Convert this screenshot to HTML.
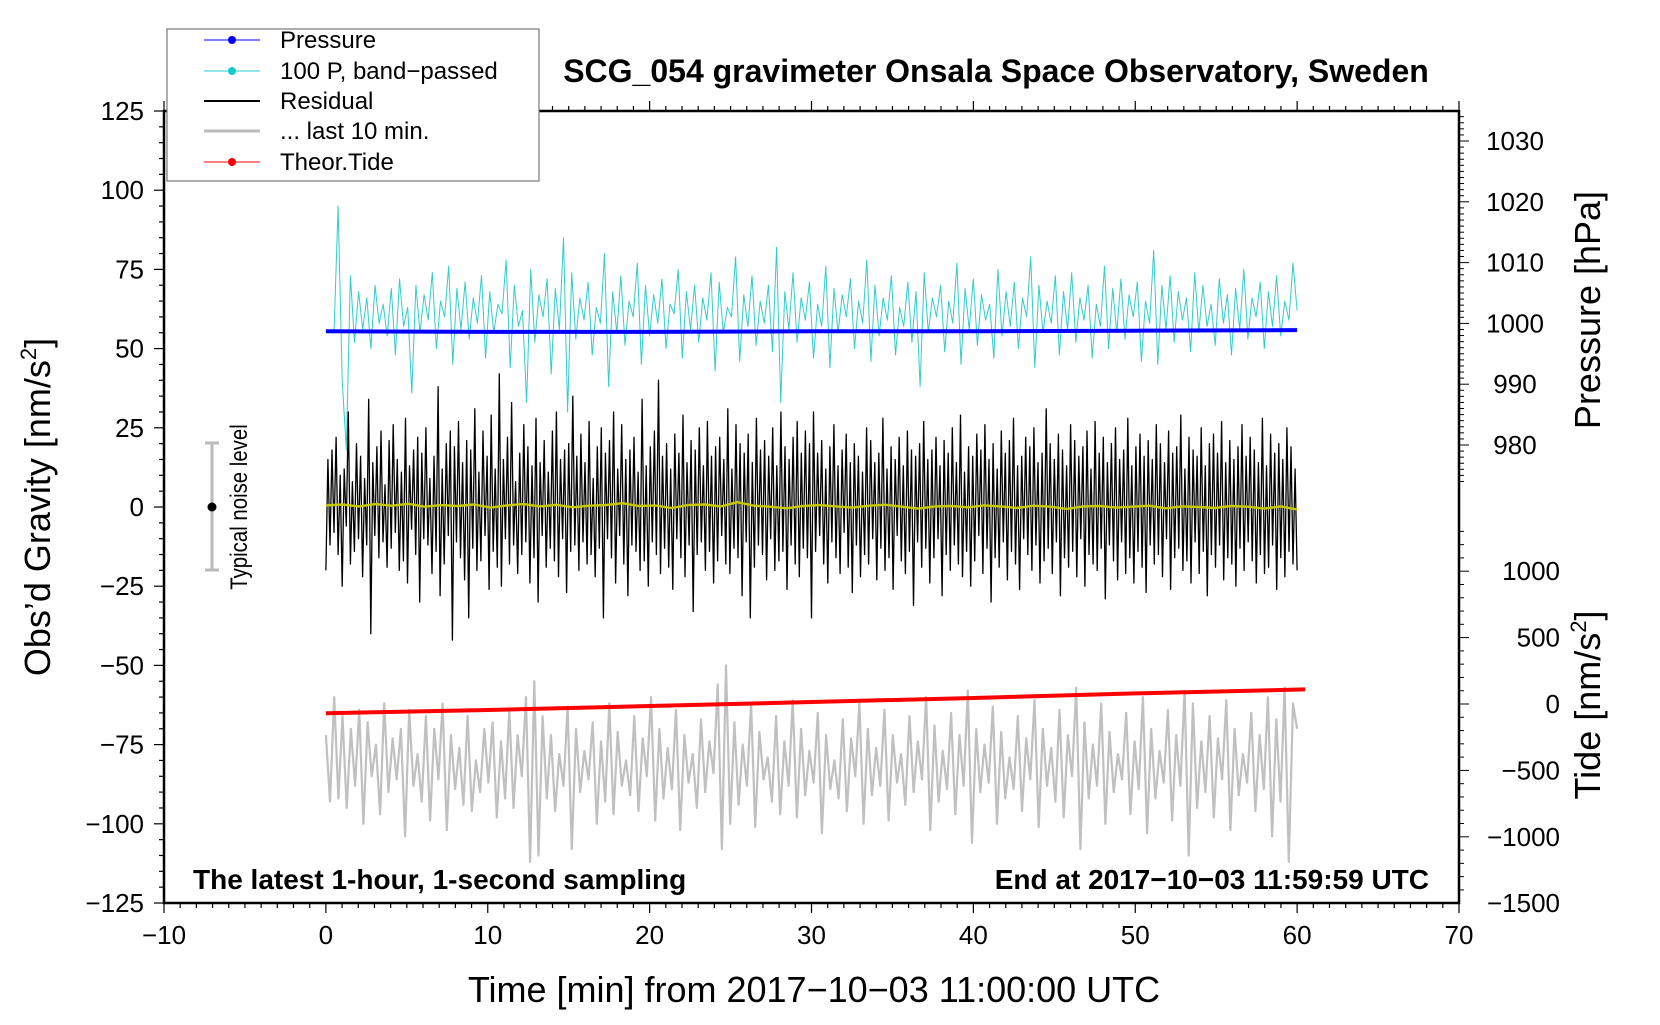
<!DOCTYPE html>
<html><head><meta charset="utf-8"><style>
body{margin:0;background:#fff;}
svg text{font-family:"Liberation Sans",sans-serif;}
</style></head><body>
<svg id="chart" width="1660" height="1020" viewBox="0 0 1660 1020" xmlns="http://www.w3.org/2000/svg">
<rect width="1660" height="1020" fill="#fff"/>
<g id="series"></g>
<g id="axes"></g>
<text x="996" y="82" text-anchor="middle" font-size="32" font-weight="bold">SCG_054 gravimeter Onsala Space Observatory, Sweden</text>
<text x="193" y="889" font-size="28" font-weight="bold">The latest 1-hour, 1-second sampling</text>
<text x="1429" y="889" text-anchor="end" font-size="28" font-weight="bold">End at 2017−10−03 11:59:59 UTC</text>
<text x="814" y="1002" text-anchor="middle" font-size="36">Time [min] from 2017−10−03 11:00:00 UTC</text>
<text transform="translate(50,507) rotate(-90)" text-anchor="middle" font-size="36">Obs’d Gravity [nm/s<tspan font-size="22" dy="-14">2</tspan><tspan dy="14">]</tspan></text>
<text transform="translate(1600,310) rotate(-90)" text-anchor="middle" font-size="36">Pressure [hPa]</text>
<text transform="translate(1600,705) rotate(-90)" text-anchor="middle" font-size="36">Tide [nm/s<tspan font-size="22" dy="-14">2</tspan><tspan dy="14">]</tspan></text>
<g>
<line x1="212" y1="443" x2="212" y2="570" stroke="#bbb" stroke-width="3"/>
<line x1="205" y1="443" x2="219" y2="443" stroke="#bbb" stroke-width="3"/>
<line x1="205" y1="570" x2="219" y2="570" stroke="#bbb" stroke-width="3"/>
<circle cx="212" cy="507" r="4.5" fill="#000"/>
<text transform="translate(247,507) rotate(-90) scale(0.85,1)" text-anchor="middle" font-size="24">Typical noise level</text>
</g>
<g>
<rect x="167" y="29" width="372" height="152" fill="#fff" stroke="#777" stroke-width="1.2"/>
<g><line x1="204" y1="40" x2="260" y2="40" stroke="#00f" stroke-width="1"/><circle cx="232" cy="40" r="4" fill="#00f"/><text x="280" y="48" font-size="24">Pressure</text></g>
<g><line x1="204" y1="71" x2="260" y2="71" stroke="#2cc" stroke-width="1"/><circle cx="232" cy="71" r="4" fill="#1cc"/><text x="280" y="79" font-size="24">100 P, band−passed</text></g>
<g><line x1="204" y1="101" x2="260" y2="101" stroke="#000" stroke-width="2"/><text x="280" y="109" font-size="24">Residual</text></g>
<g><line x1="204" y1="131" x2="260" y2="131" stroke="#bbb" stroke-width="3"/><text x="280" y="139" font-size="24">... last 10 min.</text></g>
<g><line x1="204" y1="162" x2="260" y2="162" stroke="#f00" stroke-width="1"/><circle cx="232" cy="162" r="4" fill="#f00"/><text x="280" y="170" font-size="24">Theor.Tide</text></g>
</g>
</svg>
<script>
const residual=[-20,15,-12,18,-8,22,-15,10,-25,12,-6,30,-18,8,-14,20,-10,16,-22,9,-12,34,-40,14,-9,19,-16,24,-11,7,-19,21,-13,26,-8,15,-20,11,-17,28,-24,13,-7,18,-15,22,-30,17,-10,25,-12,9,-21,16,-14,38,-28,12,-18,20,-9,24,-42,19,-11,27,-16,14,-23,21,-35,18,-13,31,-20,11,-17,24,-9,16,-26,29,-14,12,-19,42,-25,15,-10,22,-18,33,-12,8,-21,17,-15,26,-11,19,-24,13,-16,28,-30,14,-9,21,-19,11,-13,24,-17,30,-22,15,-10,18,-27,20,-14,35,-12,16,-20,23,-11,14,-18,27,-15,9,-22,19,-13,25,-35,17,-10,21,-16,30,-24,12,-9,26,-18,15,-28,18,-12,22,-14,11,-20,34,-17,13,-25,19,-11,24,-15,40,-21,16,-13,20,-19,12,-26,23,-10,17,-16,29,-22,14,-12,21,-33,18,-15,25,-11,13,-20,27,-14,16,-24,19,-17,22,-9,15,-18,31,-21,12,-13,26,-16,20,-28,17,-11,23,-35,14,-19,28,-12,18,-15,21,-23,16,-10,25,-20,13,-17,30,-14,19,-26,15,-12,22,-18,27,-22,17,-13,24,-16,20,-35,30,
-14,17,-9,21,-18,12,-24,19,-11,26,-16,13,-21,18,-8,23,-19,14,-27,20,-12,16,-22,11,-15,25,-18,21,-10,14,-23,17,-13,28,-20,12,-16,19,-26,15,-9,22,-17,13,-21,24,-14,18,-31,16,-11,20,-19,27,-13,15,-24,18,-16,22,-10,13,-28,21,-15,17,-20,25,-12,14,-18,29,-22,11,-14,19,-25,16,-17,23,-9,18,-21,26,-13,15,-30,20,-16,12,-19,24,-11,17,-23,21,-14,28,-18,13,-26,16,-10,22,-15,19,-20,25,-12,14,-24,17,-17,31,-13,20,-21,15,-11,23,-28,18,-16,13,-19,26,-14,21,-22,16,-10,19,-25,24,-15,12,-18,27,-20,17,-13,22,-29,14,-12,20,-17,25,-23,15,-11,18,-21,28,-16,13,-24,19,-14,23,-19,16,-27,21,-12,15,-18,26,-15,20,-22,14,-10,24,-26,17,-16,19,-13,29,-20,12,-17,22,-24,18,-11,16,-21,25,-14,13,-28,20,-15,23,-19,17,-12,27,-23,14,-16,21,-18,15,-25,19,-13,26,-20,16,-11,22,-17,18,-24,14,-15,28,-21,13,-19,23,-12,17,-26,20,-16,15,-22,25,-14,19,-18,12,-20];
const bandpassed=[55,95,40,18,73,52,68,56,66,50,70,58,64,54,69,48,72,57,63,36,70,55,67,59,74,50,65,60,76,45,69,56,71,53,66,58,73,47,68,55,64,61,78,44,70,57,62,33,75,52,67,60,72,42,69,56,85,30,74,53,66,59,71,48,63,58,80,38,68,55,73,51,65,60,77,45,70,54,67,58,72,50,64,61,75,47,68,56,70,52,66,59,74,43,71,55,63,60,79,46,67,57,73,51,65,58,70,49,82,33,68,56,74,52,66,59,71,47,64,57,76,44,69,55,67,60,72,50,65,58,78,46,70,54,66,59,73,48,63,57,71,52,68,38,74,55,66,60,70,49,65,58,77,45,69,56,72,51,67,59,64,47,75,54,68,57,71,50,66,60,79,44,70,55,65,58,73,48,68,56,74,52,66,59,70,47,64,57,76,50,69,55,72,53,67,60,71,46,65,58,81,45,70,56,73,52,68,59,66,49,74,55,70,57,64,51,72,58,67,48,69,56,75,53,66,60,71,50,68,57,73,54,65,59,77,62];
const last10=[-72,-93,-60,-92,-66,-95,-70,-88,-64,-100,-68,-85,-75,-97,-62,-90,-73,-86,-70,-104,-64,-88,-78,-93,-66,-99,-70,-86,-62,-102,-72,-89,-76,-94,-66,-96,-80,-90,-70,-87,-68,-98,-74,-92,-64,-95,-72,-85,-60,-112,-55,-110,-66,-92,-72,-96,-78,-88,-63,-108,-70,-90,-77,-86,-68,-100,-74,-93,-62,-97,-71,-88,-80,-91,-66,-96,-73,-85,-60,-99,-70,-92,-76,-89,-64,-102,-72,-87,-78,-95,-67,-90,-74,-84,-56,-108,-50,-100,-68,-94,-75,-88,-62,-101,-71,-86,-79,-93,-66,-97,-74,-88,-61,-98,-70,-91,-77,-87,-65,-103,-72,-89,-80,-92,-67,-96,-73,-85,-62,-100,-70,-91,-76,-88,-64,-99,-72,-87,-78,-94,-66,-90,-74,-86,-60,-102,-69,-93,-77,-89,-65,-97,-72,-88,-58,-106,-70,-90,-75,-87,-63,-100,-71,-92,-79,-89,-66,-96,-73,-86,-61,-101,-70,-88,-76,-93,-64,-98,-72,-85,-57,-108,-68,-92,-75,-88,-62,-100,-71,-90,-78,-86,-65,-97,-74,-89,-60,-103,-70,-92,-77,-87,-64,-99,-72,-88,-58,-110,-62,-95,-74,-90,-66,-98,-73,-86,-61,-102,-70,-91,-78,-87,-65,-96,-72,-89,-60,-104,-67,-93,-57,-112,-62,-70];
const smooth=[0.5,0.8,0.2,0.9,0.4,1.0,0.1,0.6,0.3,0.8,-0.2,0.5,0.9,0.2,0.7,-0.1,0.4,0.6,1.2,0.3,0.5,-0.3,0.6,0.8,0.2,1.5,0.4,0.1,-0.4,0.3,0.6,0.2,-0.2,0.4,0.7,0.1,-0.5,0.2,0.3,-0.1,0.5,0.2,-0.3,0.4,0.1,-0.6,0.2,0.3,-0.2,0.1,0.4,-0.4,0.2,0.0,-0.3,0.3,0.1,-0.5,0.2,-0.8];
const pressTimes=[0,10,20,30,40,50,60];
const pressVals=[998.7,998.6,998.6,998.7,998.7,998.8,998.9];
const tideTimes=[0,10,20,30,40,50,60.5];
const tideVals=[-70,-45,-15,15,45,80,110];
const xTicks=[-10,0,10,20,30,40,50,60,70];
const yTicks=[125,100,75,50,25,0,-25,-50,-75,-100,-125];
const pTicks=[1030,1020,1010,1000,990,980];
const tTicks=[1000,500,0,-500,-1000,-1500];

const NS="http://www.w3.org/2000/svg";
const L=164,R=1459,T=111,B=903;
const xs=t=>L+(t+10)*(R-L)/80;
const yg=v=>T+(125-v)*(B-T)/250;
const yp=p=>445-(p-980)*6.08;
const yt=v=>704-v*0.1328;
function mk(tag,attrs,parent){const e=document.createElementNS(NS,tag);for(const k in attrs)e.setAttribute(k,attrs[k]);parent.appendChild(e);return e;}
const S=document.getElementById('series'),A=document.getElementById('axes');
function series(vals,t0,t1,yf,col,w,name){
  const n=vals.length;let d='';
  vals.forEach((v,i)=>{const t=t0+(t1-t0)*i/(n-1);d+=(i?'L':'M')+xs(t).toFixed(1)+' '+yf(v).toFixed(1);});
  const p=mk('path',{d:d,fill:'none',stroke:col,'stroke-width':w,'stroke-linejoin':'round'},S);
  
  
}
function seriesXY(ts,vals,yf,col,w,name){
  let d='';ts.forEach((t,i)=>{d+=(i?'L':'M')+xs(t).toFixed(1)+' '+yf(vals[i]).toFixed(1);});
  const p=mk('path',{d:d,fill:'none',stroke:col,'stroke-width':w},S);
  
  
}
series(last10,0,60,yg,'#c0c0c0',2.2,'last-10-min-line');
series(bandpassed,0.5,60,yg,'#33cccc',1,'bandpassed-pressure-line');
seriesXY(pressTimes,pressVals,yp,'#0000ff',4,'pressure-line');
series(residual,0,60,yg,'#000',1.3,'residual-line');
series(smooth,0,60,yg,'#c8c800',2.4,'smoothed-residual-line');
seriesXY(tideTimes,tideVals,yt,'#ff0000',4,'tide-line');

mk('rect',{x:L,y:T,width:R-L,height:B-T,fill:'none',stroke:'#000','stroke-width':2.5},A);
for(let m=-10;m<=70;m++){const x=xs(m),maj=m%10===0;
  mk('line',{x1:x,y1:B,x2:x,y2:B+(maj?10:5),stroke:'#000','stroke-width':1.2},A);
  mk('line',{x1:x,y1:T,x2:x,y2:T-(maj?10:5),stroke:'#000','stroke-width':1.2},A);}
xTicks.forEach(t=>{const e=mk('text',{x:xs(t),y:B+41,'text-anchor':'middle','font-size':26},A);e.textContent=(t<0?'−':'')+Math.abs(t);
  
  });
for(let v=-125;v<=125;v+=5){const y=yg(v),maj=v%25===0;mk('line',{x1:L,y1:y,x2:L-(maj?10:5),y2:y,stroke:'#000','stroke-width':1.2},A);}
yTicks.forEach(v=>{const e=mk('text',{x:L-20,y:yg(v)+9,'text-anchor':'end','font-size':26},A);e.textContent=(v<0?'−':'')+Math.abs(v);
  
  });
for(let p=974;p<=1035;p++){const y=yp(p);if(y<T||y>B)continue;const maj=p%10===0;mk('line',{x1:R,y1:y,x2:R+(maj?10:5),y2:y,stroke:'#000','stroke-width':1},A);}
pTicks.forEach(p=>{const e=mk('text',{x:R+56,y:yp(p)+9,'text-anchor':'middle','font-size':26},A);e.textContent=p;
  
  });
for(let v=-1500;v<=1300;v+=100){const y=yt(v);if(y<T||y>B)continue;const maj=v%500===0;mk('line',{x1:R,y1:y,x2:R+(maj?10:5),y2:y,stroke:'#000','stroke-width':1},A);}
tTicks.forEach(v=>{const e=mk('text',{x:1560,y:yt(v)+9,'text-anchor':'end','font-size':26},A);e.textContent=(v<0?'−':'')+Math.abs(v);
  
  });
</script>
</body></html>
